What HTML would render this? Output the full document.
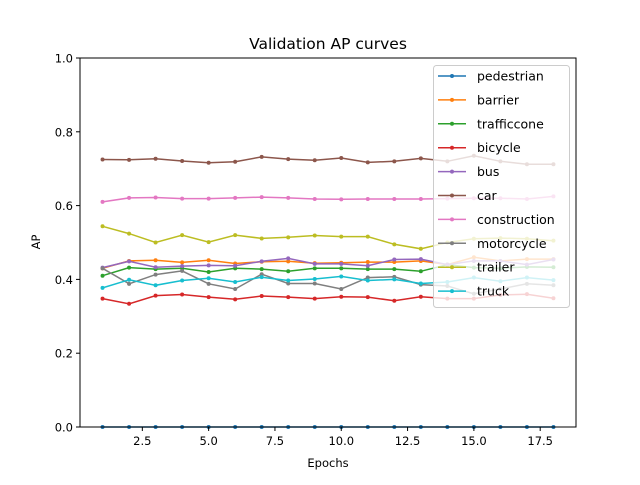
<!DOCTYPE html>
<html><head><meta charset="utf-8"><style>
body{margin:0;background:#fff}
svg{font-family:"DejaVu Sans","Liberation Sans",sans-serif}
</style></head><body>
<svg id="c" width="640" height="480" xmlns="http://www.w3.org/2000/svg"></svg>
<script>
const epochs=[1,2,3,4,5,6,7,8,9,10,11,12,13,14,15,16,17,18];
const seriesNames=["pedestrian","barrier","trafficcone","bicycle","bus","car","construction","motorcycle","trailer","truck"];
const colors=["#1f77b4","#ff7f0e","#2ca02c","#d62728","#9467bd","#8c564b","#e377c2","#7f7f7f","#bcbd22","#17becf"];
const pedestrian=[0,0,0,0,0,0,0,0,0,0,0,0,0,0,0,0,0,0];
const barrier=[0.43,0.45,0.452,0.446,0.452,0.443,0.448,0.449,0.444,0.445,0.447,0.447,0.45,0.44,0.46,0.45,0.455,0.455];
const trafficcone=[0.41,0.432,0.428,0.43,0.42,0.43,0.428,0.422,0.43,0.43,0.428,0.428,0.422,0.44,0.432,0.43,0.434,0.433];
const bicycle=[0.348,0.334,0.356,0.359,0.352,0.346,0.355,0.352,0.348,0.353,0.352,0.342,0.353,0.348,0.348,0.358,0.36,0.349];
const bus=[0.432,0.449,0.433,0.436,0.438,0.437,0.449,0.457,0.442,0.442,0.437,0.454,0.455,0.44,0.45,0.45,0.44,0.454];
const car=[0.725,0.724,0.727,0.721,0.716,0.719,0.732,0.726,0.723,0.729,0.717,0.72,0.728,0.72,0.735,0.72,0.712,0.712];
const construction=[0.61,0.621,0.622,0.619,0.619,0.621,0.623,0.621,0.618,0.617,0.618,0.618,0.618,0.619,0.62,0.62,0.618,0.625];
const motorcycle=[0.43,0.388,0.413,0.423,0.388,0.374,0.414,0.389,0.389,0.374,0.405,0.407,0.386,0.382,0.361,0.374,0.388,0.384];
const trailer=[0.544,0.524,0.5,0.52,0.501,0.52,0.511,0.514,0.519,0.516,0.516,0.495,0.483,0.5,0.51,0.512,0.51,0.505];
const truck=[0.377,0.399,0.384,0.397,0.403,0.393,0.406,0.397,0.401,0.408,0.397,0.4,0.389,0.393,0.405,0.395,0.405,0.398];
const xTicks=[2.5,5.0,7.5,10.0,12.5,15.0,17.5];
const yTicks=[0.0,0.2,0.4,0.6,0.8,1.0];
const allSeries=[pedestrian,barrier,trafficcone,bicycle,bus,car,construction,motorcycle,trailer,truck];

const L=80,R=576,T=58,B=427,xmin=0.15,xmax=18.85;
const sx=v=>L+(v-xmin)/(xmax-xmin)*(R-L);
const sy=v=>B-v*(B-T);
const svg=document.getElementById('c');
const NS='http://www.w3.org/2000/svg';
function mk(tag,attrs,parent){const e=document.createElementNS(NS,tag);for(const k in attrs)e.setAttribute(k,attrs[k]);(parent||svg).appendChild(e);return e;}

const title=mk('text',{x:328,y:49,'text-anchor':'middle','font-size':'15.5'});title.textContent='Validation AP curves';



allSeries.forEach((s,i)=>{
  const g=mk('g',{});
  
  
  const pts=s.map((v,j)=>sx(epochs[j]).toFixed(1)+','+sy(v).toFixed(1)).join(' ');
  mk('polyline',{points:pts,fill:'none',stroke:colors[i],'stroke-width':1.5},g);
  s.forEach((v,j)=>{
    const c=mk('circle',{cx:sx(epochs[j]),cy:sy(v),r:2,fill:colors[i]},g);
    
    
  });
});

const frame=mk('rect',{x:L,y:T,width:R-L,height:B-T,fill:'none',stroke:'#000','stroke-width':1});



xTicks.forEach(t=>{
  const x=sx(t);
  mk('line',{x1:x,x2:x,y1:B,y2:B+4,stroke:'#000'});
  const tx=mk('text',{x:x,y:B+18,'text-anchor':'middle','font-size':'11.5'});tx.textContent=t.toFixed(1);
  
  
});
yTicks.forEach(t=>{
  const y=sy(t);
  mk('line',{x1:L-4,x2:L,y1:y,y2:y,stroke:'#000'});
  const tx=mk('text',{x:L-7,y:y+4.5,'text-anchor':'end','font-size':'11.5'});tx.textContent=t.toFixed(1);
  
  
});
const xl=mk('text',{x:328,y:467,'text-anchor':'middle','font-size':'11.5'});xl.textContent='Epochs';


const yl=mk('text',{x:0,y:0,'text-anchor':'middle','font-size':'11.5',transform:'translate(40,242) rotate(-90)'});yl.textContent='AP';



const lg=mk('g',{});


mk('rect',{x:433.5,y:65.5,width:136,height:242,rx:3,fill:'#fff','fill-opacity':0.8,stroke:'#ccc'},lg);
seriesNames.forEach((n,i)=>{
  const y=76+i*23.9;
  const e=mk('g',{},lg);
  
  
  mk('line',{x1:438,x2:466,y1:y,y2:y,stroke:colors[i],'stroke-width':1.5},e);
  mk('circle',{cx:452,cy:y,r:2,fill:colors[i]},e);
  const t=mk('text',{x:477,y:y+4.5,'font-size':'12.5'},e);t.textContent=n;
});
</script>
</body></html>
